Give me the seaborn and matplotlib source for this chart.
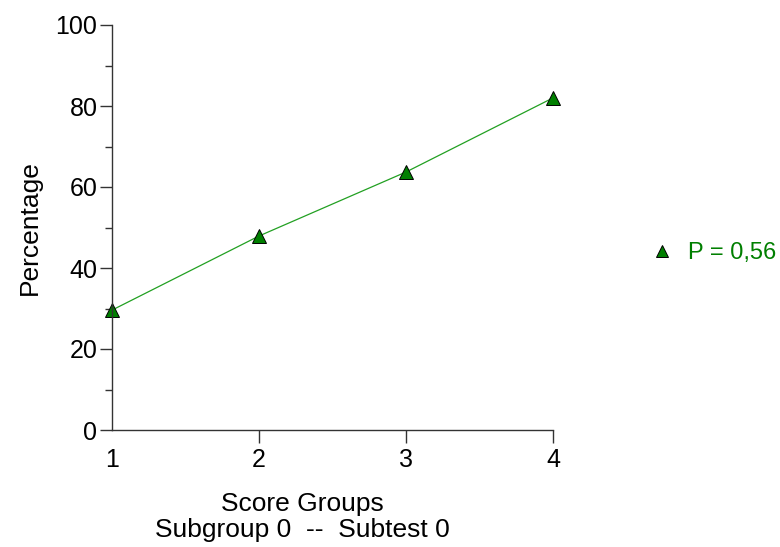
import numpy as np
import pandas as pd
import matplotlib
matplotlib.use("Agg")
import matplotlib.pyplot as plt
from matplotlib.lines import Line2D
from matplotlib.ticker import MultipleLocator
import seaborn as sns

# --- data ---
score_groups = [1, 2, 3, 4]
percentages  = [29.6, 47.9, 63.7, 82.0]
series_label = "P = 0,56"
x_title      = "Score Groups\nSubgroup 0  --  Subtest 0"
y_title      = "Percentage"

MARK_GREEN = "#007f00"
LINE_GREEN = "#22a022"

sns.set_theme(style="ticks")
plt.rcParams["font.family"] = ["Liberation Sans", "DejaVu Sans"]

df = pd.DataFrame({"group": score_groups, "pct": percentages})

fig = plt.figure(figsize=(7.8, 5.47), dpi=100)
ax = fig.add_axes([112 / 780, 117 / 547, 441 / 780, 405 / 547])

sns.lineplot(data=df, x="group", y="pct", ax=ax, color=LINE_GREEN, linewidth=0.9,
             marker="^", markersize=9.5, markerfacecolor=MARK_GREEN,
             markeredgecolor="black", markeredgewidth=0.7, clip_on=False)

ax.set_xlim(1, 4)
ax.set_ylim(0, 100)
ax.set_xticks(score_groups)
ax.yaxis.set_major_locator(MultipleLocator(20))
ax.yaxis.set_minor_locator(MultipleLocator(10))
ax.tick_params(axis="both", which="major", labelsize=18, length=9, width=1,
               color="#333333", labelcolor="black")
ax.tick_params(axis="y", which="minor", length=5, width=1, color="#333333")
ax.tick_params(axis="x", pad=4)
ax.tick_params(axis="y", pad=1.5)
# no tick marks at the corner (x=1, y=0)
ax.xaxis.get_major_ticks()[0].tick1line.set_visible(False)
ax.yaxis.get_major_ticks()[0].tick1line.set_visible(False)

for side in ["top", "right"]:
    ax.spines[side].set_visible(False)
for side in ["left", "bottom"]:
    ax.spines[side].set_color("#333333")
    ax.spines[side].set_linewidth(1)

ax.set_xlabel(x_title, fontsize=19, linespacing=1.12, color="black")
ax.xaxis.set_label_coords((302 - 112) / 441, -0.153)
ax.xaxis.label.set_va("top")
ax.set_ylabel(y_title, fontsize=19, color="black")
ax.yaxis.set_label_coords((42 - 112) / 441, 0.5)

handle = Line2D([], [], linestyle="none", marker="^", markersize=9,
                markerfacecolor=MARK_GREEN, markeredgecolor="black",
                markeredgewidth=0.7)
fig.legend(handles=[handle], labels=[series_label], loc="center left",
           bbox_to_anchor=(650 / 780, 1 - 253 / 547), frameon=False,
           fontsize=17, handlelength=1.0, handletextpad=0.6,
           labelcolor=MARK_GREEN, borderpad=0, borderaxespad=0)

fig.savefig("out.png", dpi=100)
